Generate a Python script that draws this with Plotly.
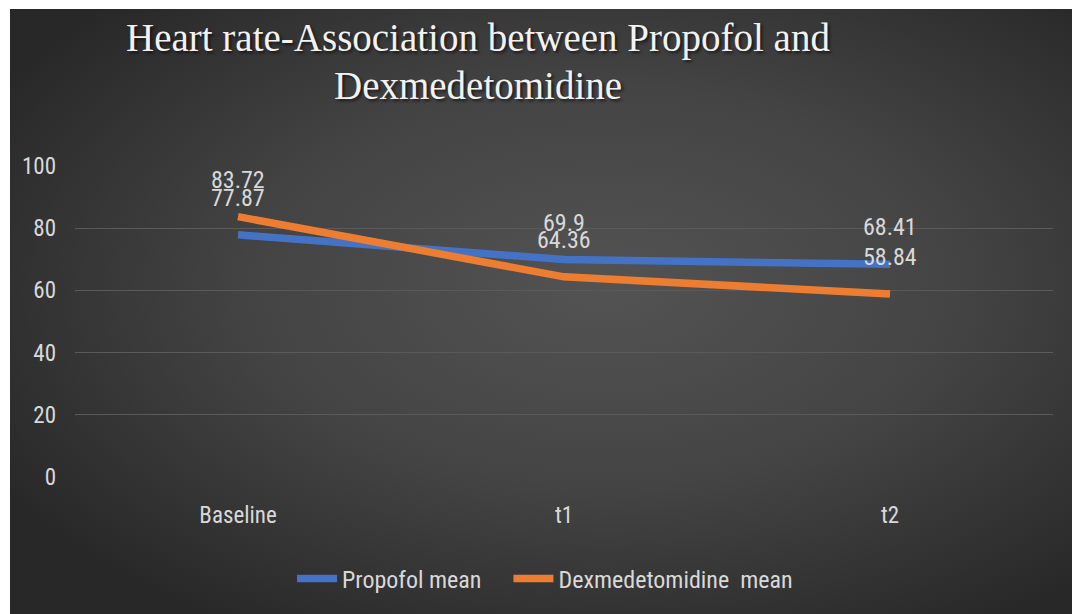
import base64
import plotly.graph_objects as go

# Heart rate means at each time point
time_points = ["Baseline", "t1", "t2"]
propofol_mean = [77.87, 69.9, 68.41]
dexmedetomidine_mean = [83.72, 64.36, 58.84]
y_ticks = [0, 20, 40, 60, 80, 100]
title_lines = ["Heart rate-Association between Propofol and", "Dexmedetomidine"]

W, H = 1072, 614
M_L, M_R, M_T, M_B = 75, 19, 166, 137
plot_w = W - M_L - M_R
plot_h = H - M_T - M_B

BLUE = "#4472C4"
ORANGE = "#ED7D31"
TXT = "#D9D9D9"
SANS = "Liberation Sans Narrow, Roboto Condensed, Arial Narrow, sans-serif"
SERIF = "Liberation Serif, Times New Roman, serif"
NBSP = "\u00a0"

# dark radial-gradient backdrop as an inline SVG
svg = (
    '<svg xmlns="http://www.w3.org/2000/svg" width="1062" height="605" viewBox="0 0 1062 605" preserveAspectRatio="none">'
    '<defs><radialGradient id="g" cx="56%" cy="46%" r="66%">'
    '<stop offset="0" stop-color="#535353"/>'
    '<stop offset="0.5" stop-color="#444444"/>'
    '<stop offset="1" stop-color="#282828"/>'
    '</radialGradient></defs>'
    '<rect width="1062" height="605" fill="url(#g)"/></svg>'
)
bg_src = "data:image/svg+xml;base64," + base64.b64encode(svg.encode()).decode()


def px_to_paper_x(px):
    return (px - M_L) / plot_w


def px_to_paper_y(py):
    return (H - M_B - py) / plot_h


fig = go.Figure()

# trailing non-breaking spaces widen the gap between the two legend entries
fig.add_trace(go.Scatter(
    x=time_points, y=propofol_mean, mode="lines", name="Propofol mean" + NBSP * 4,
    line=dict(color=BLUE, width=7.5),
))
fig.add_trace(go.Scatter(
    x=time_points, y=dexmedetomidine_mean, mode="lines", name="Dexmedetomidine" + NBSP + " mean",
    line=dict(color=ORANGE, width=7.5),
))

# value labels placed above each point
for series in (propofol_mean, dexmedetomidine_mean):
    for cat, val in zip(time_points, series):
        fig.add_annotation(
            x=cat, y=val, text=f"{val:g}", showarrow=False,
            yshift=37, xanchor="center", yanchor="middle",
            font=dict(family=SANS, size=24, color=TXT),
        )

# two-line chart title
for line_text, baseline in zip(title_lines, (52, 99)):
    fig.add_annotation(
        xref="paper", yref="paper",
        x=px_to_paper_x(478), y=px_to_paper_y(baseline + 10),
        xanchor="center", yanchor="bottom",
        text=line_text, showarrow=False,
        font=dict(family=SERIF, size=39, color="#F2F2F2",
                  shadow="2px 2px 3px rgba(0,0,0,0.6)"),
    )

fig.add_layout_image(
    source=bg_src, xref="paper", yref="paper",
    x=px_to_paper_x(10), y=px_to_paper_y(9),
    sizex=(W - 10) / plot_w, sizey=(H - 9) / plot_h,
    xanchor="left", yanchor="top", sizing="stretch", layer="below",
)

fig.update_layout(
    width=W, height=H,
    margin=dict(l=M_L, r=M_R, t=M_T, b=M_B),
    paper_bgcolor="white",
    plot_bgcolor="rgba(0,0,0,0)",
    showlegend=True,
    legend=dict(
        orientation="h", x=px_to_paper_x(545), y=px_to_paper_y(579),
        xanchor="center", yanchor="middle",
        font=dict(family=SANS, size=24, color=TXT),
        bgcolor="rgba(0,0,0,0)", itemwidth=40,
    ),
    xaxis=dict(
        type="category", range=[-0.5, 2.5], showgrid=False, zeroline=False,
        showline=False, ticks="", ticklabelstandoff=22,
        tickfont=dict(family=SANS, size=23, color=TXT),
    ),
    yaxis=dict(
        range=[0, 100], tickvals=y_ticks, showgrid=True,
        gridcolor="#5A5A5A", gridwidth=1.3, zeroline=False, showline=False,
        ticks="", ticklabelstandoff=18,
        tickfont=dict(family=SANS, size=23, color=TXT),
    ),
)

fig.write_html("out.html")
